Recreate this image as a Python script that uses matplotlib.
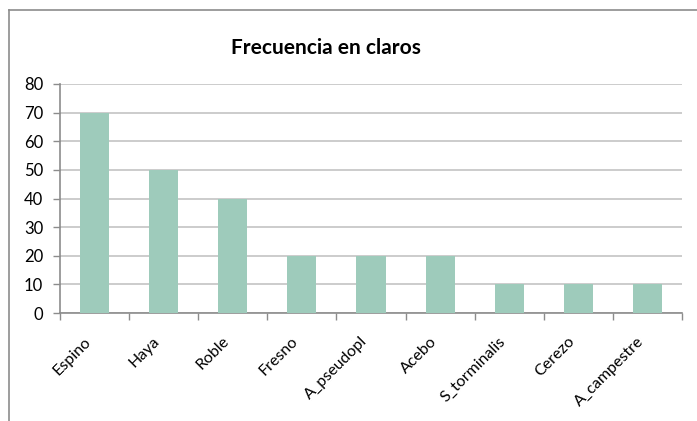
import matplotlib
matplotlib.use("Agg")
import matplotlib.pyplot as plt
import matplotlib.transforms as mtransforms
from matplotlib.lines import Line2D

# chart data
species = ["Espino", "Haya", "Roble", "Fresno", "A_pseudopl", "Acebo",
           "S_torminalis", "Cerezo", "A_campestre"]
frequency = [70, 50, 40, 20, 20, 20, 10, 10, 10]
y_ticks = [0, 10, 20, 30, 40, 50, 60, 70, 80]

plt.rcParams["font.family"] = ["Lato", "DejaVu Sans"]

fig = plt.figure(figsize=(6.97, 4.21), dpi=100)
ax = fig.add_axes([60 / 697, 108 / 421, 622 / 697, 229 / 421])

x = list(range(len(species)))
ax.bar(x, frequency, width=0.42, color="#9ECBBB", zorder=3)

ax.set_xlim(-0.5, len(species) - 0.5)
ax.set_ylim(0, 80)
ax.set_yticks(y_ticks)
ax.yaxis.grid(True, color="#C4C4C4", linewidth=1.2, zorder=0)

# x ticks at category boundaries, labels at centres
ax.set_xticks([i - 0.5 for i in range(len(species) + 1)])
ax.set_xticklabels([])
ax.set_xticks(x, minor=True)
ax.set_xticklabels(species, minor=True, rotation=45, ha="right",
                   va="baseline", rotation_mode="anchor", fontsize=11.5)
ax.tick_params(axis="x", which="minor", length=0, pad=21)
ax.tick_params(axis="x", which="major", length=5, color="#8C8C8C", width=1)
ax.tick_params(axis="y", length=5, color="#8C8C8C", width=1, labelsize=12,
               pad=7)

# nudge the rotated labels a little to the left
shift = mtransforms.ScaledTranslation(-3 / 100, 0, fig.dpi_scale_trans)
for lab in ax.get_xticklabels(minor=True):
    lab.set_transform(lab.get_transform() + shift)

for side in ["top", "right"]:
    ax.spines[side].set_visible(False)
for side in ["left", "bottom"]:
    ax.spines[side].set_color("#8C8C8C")
    ax.spines[side].set_linewidth(1.2)

fig.text(326 / 697, 1 - 48 / 421, "Frecuencia en claros", ha="center",
         va="center", fontsize=15, fontweight="bold")

# outer chart frame (top and left only visible)
fig.add_artist(Line2D([9 / 697, 1], [1 - 10 / 421, 1 - 10 / 421],
                      color="#8C8C8C", linewidth=1.2))
fig.add_artist(Line2D([9 / 697, 9 / 697], [0, 1 - 10 / 421],
                      color="#8C8C8C", linewidth=1.2))

plt.savefig("out.png", dpi=100)
plt.close()
